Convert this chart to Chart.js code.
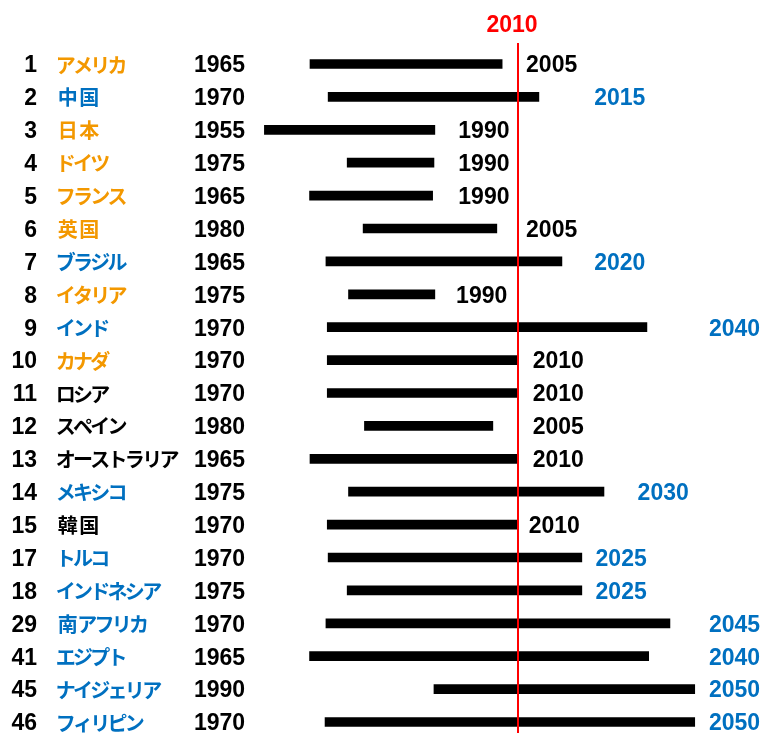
<!DOCTYPE html>
<html>
<head>
<meta charset="utf-8">
<script src="https://cdn.jsdelivr.net/npm/chart.js@4/dist/chart.umd.min.js"></script>
<style>
  html, body { margin: 0; padding: 0; background: #fff; }
  #wrap { width: 766px; height: 733px; position: relative; }
</style>
</head>
<body>
<div id="wrap"><canvas id="grafico"></canvas></div>
<script>
// datos
var rangos = [1, 2, 3, 4, 5, 6, 7, 8, 9, 10, 11, 12, 13, 14, 15, 17, 18, 29, 41, 45, 46];
var paises = ["アメリカ", "中国", "日本", "ドイツ", "フランス", "英国", "ブラジル", "イタリア", "インド", "カナダ",
  "ロシア", "スペイン", "オーストラリア", "メキシコ", "韓国", "トルコ", "インドネシア", "南アフリカ", "エジプト",
  "ナイジェリア", "フィリピン"];
// grupo del nombre: "o" naranja, "b" azul, "k" negro
var grupos = ["o", "b", "o", "o", "o", "o", "b", "o", "b", "o", "k", "k", "k", "b", "k", "b", "b", "b", "b", "b", "b"];
var inicio = [1963.1, 1967.2, 1952.8, 1971.5, 1963.0, 1975.1, 1966.7, 1971.8, 1967.0, 1967.0, 1967.0, 1975.4,
  1963.1, 1971.8, 1967.0, 1967.2, 1971.5, 1966.7, 1963.0, 1991.1, 1966.5];
var fin = [2006.5, 2014.8, 1991.3, 1991.1, 1990.8, 2005.3, 2020.0, 1991.3, 2039.2, 2009.8, 2009.8, 2004.4,
  2009.8, 2029.5, 2009.8, 2024.5, 2024.5, 2044.4, 2039.6, 2050.0, 2050.0];
var etiquetaInicio = ["1965", "1970", "1955", "1975", "1965", "1980", "1965", "1975", "1970", "1970", "1970", "1980",
  "1965", "1975", "1970", "1970", "1975", "1970", "1965", "1990", "1970"];
var etiquetaFin = ["2005", "2015", "1990", "1990", "1990", "2005", "2020", "1990", "2040", "2010", "2010", "2005",
  "2010", "2030", "2010", "2025", "2025", "2045", "2040", "2050", "2050"];
var anioReferencia = 2010;

var colores = { o: "#F39800", b: "#0070C0", k: "#000000" };
var fuenteNum = "bold 23px 'Liberation Sans', Arial, sans-serif";
var fuenteJp = "bold 20px 'Noto Sans CJK JP', sans-serif";

// escribe el nombre letra por letra (kanji mas ancho que kana)
function escribirNombre(ctx, texto, x0, py) {
  var cx = x0;
  for (var k = 0; k < texto.length; k++) {
    var c = texto[k];
    var paso = c.charCodeAt(0) >= 0x4e00 ? 21.5 : 17.3;
    var w = ctx.measureText(c).width;
    ctx.fillText(c, cx + (paso - w) / 2, py);
    cx += paso;
  }
}

// textos de las columnas y linea roja
var columnasPlugin = {
  id: "columnas",
  afterDatasetsDraw(chart, args, opts) {
    var ctx = chart.ctx;
    var x = chart.scales.x;
    var y = chart.scales.y;
    ctx.save();
    ctx.textBaseline = "middle";
    paises.forEach(function (p, i) {
      var py = y.getPixelForValue(i) + 2;
      ctx.font = fuenteNum;
      ctx.fillStyle = "#000";
      ctx.textAlign = "right";
      ctx.fillText(String(rangos[i]), 37, py);
      ctx.textAlign = "left";
      ctx.fillText(etiquetaInicio[i], 194, py);
      ctx.fillStyle = Number(etiquetaFin[i]) > anioReferencia ? colores.b : "#000";
      ctx.fillText(etiquetaFin[i], x.getPixelForValue(opts.finEn[i]), py);
      ctx.font = fuenteJp;
      ctx.fillStyle = colores[grupos[i]];
      escribirNombre(ctx, p, 57, py - 1);
    });

    // linea de 2010
    var lx = Math.round(x.getPixelForValue(anioReferencia));
    ctx.strokeStyle = "#FF0000";
    ctx.lineWidth = 2;
    ctx.beginPath();
    ctx.moveTo(lx, 43);
    ctx.lineTo(lx, chart.height);
    ctx.stroke();
    ctx.font = fuenteNum;
    ctx.fillStyle = "#FF0000";
    ctx.textAlign = "center";
    ctx.fillText(String(anioReferencia), lx - 6, 26);
    ctx.restore();
  }
};

var datos = inicio.map(function (v, i) { return [v, fin[i]]; });

new Chart(document.getElementById("grafico"), {
  type: "bar",
  data: {
    labels: paises,
    datasets: [{
      data: datos,
      backgroundColor: "#000000",
      barThickness: 9,
      clip: false
    }]
  },
  options: {
    indexAxis: "y",
    responsive: true,
    maintainAspectRatio: false,
    animation: false,
    layout: { padding: { left: 252, right: 27, top: 64, bottom: 11 } },
    scales: {
      x: { type: "linear", min: 1950, max: 2060, display: false },
      y: { type: "category", offset: false, display: false }
    },
    plugins: {
      legend: { display: false },
      tooltip: { enabled: false },
      columnas: {
        // donde empieza el texto del año final (en años del eje)
        finEn: [2011.9, 2027.3, 1996.6, 1996.6, 1996.6, 2011.9, 2027.3, 1996.1, 2053.2, 2013.4, 2013.4, 2013.4,
          2013.4, 2037.1, 2012.5, 2027.6, 2027.6, 2053.2, 2053.2, 2053.2, 2053.2]
      }
    }
  },
  plugins: [columnasPlugin]
});
</script>
</body>
</html>
